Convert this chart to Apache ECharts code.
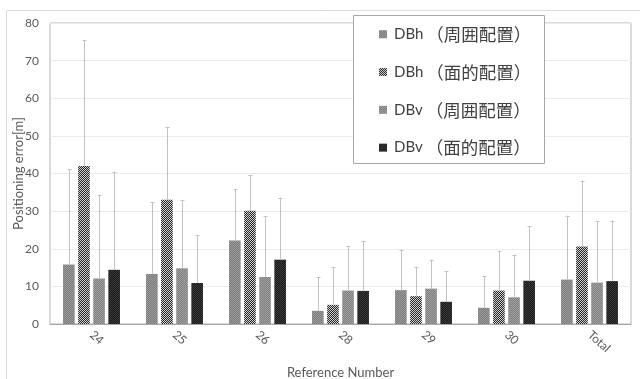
<!DOCTYPE html>
<html>
<head>
<meta charset="utf-8">
<script src="https://cdn.jsdelivr.net/npm/echarts@6/dist/echarts.min.js"></script>
<style>
html,body{margin:0;padding:0;background:#fff;}
#chart{width:640px;height:379px;}
</style>
</head>
<body>
<div id="chart"></div>
<script>
const categories = ['24', '25', '26', '28', '29', '30', 'Total'];
const seriesNames = ['DBh（周囲配置）', 'DBh（面的配置）', 'DBv（周囲配置）', 'DBv（面的配置）'];
const dbhPeri = [15.8, 13.3, 22.2, 3.5, 9.0, 4.3, 11.8];
const dbhArea = [42.0, 33.0, 30.1, 5.1, 7.4, 8.9, 20.6];
const dbvPeri = [12.1, 14.8, 12.5, 8.9, 9.4, 7.1, 11.0];
const dbvArea = [14.4, 10.9, 17.1, 8.8, 5.9, 11.5, 11.4];
const dbhPeriUpper = [41.2, 32.4, 35.9, 12.4, 19.7, 12.7, 28.8];
const dbhAreaUpper = [75.4, 52.4, 39.6, 15.2, 15.2, 19.5, 38.1];
const dbvPeriUpper = [34.4, 33.0, 28.6, 20.7, 17.1, 18.4, 27.3];
const dbvAreaUpper = [40.5, 23.7, 33.6, 22.1, 14.0, 26.0, 27.5];
const yTicks = [0, 10, 20, 30, 40, 50, 60, 70, 80];

const means = [dbhPeri, dbhArea, dbvPeri, dbvArea];
const uppers = [dbhPeriUpper, dbhAreaUpper, dbvPeriUpper, dbvAreaUpper];

function pattern(c1, c2) {
  const cv = document.createElement('canvas');
  cv.width = 2; cv.height = 2;
  const ctx = cv.getContext('2d');
  ctx.fillStyle = c1; ctx.fillRect(0, 0, 2, 2);
  ctx.fillStyle = c2; ctx.fillRect(0, 0, 1, 1); ctx.fillRect(1, 1, 1, 1);
  return { image: cv, repeat: 'repeat' };
}
const fills = [
  pattern('#7c7c7c', '#9a9a9a'),
  pattern('#262626', '#d0d0d0'),
  pattern('#808080', '#a0a0a0'),
  pattern('#1a1a1a', '#3a3a3a')
];

const BAR_W = 0.14, GAP = 0.3;
const font = "Lato, 'Noto Sans CJK JP', sans-serif";

const series = [];
means.forEach((m, k) => {
  series.push({
    name: seriesNames[k],
    type: 'bar',
    data: m,
    barWidth: (BAR_W * 100) + '%',
    barGap: (GAP * 100) + '%',
    itemStyle: { color: fills[k] },
    z: 2
  });
});
uppers.forEach((u, k) => {
  series.push({
    name: 'err' + k,
    type: 'custom',
    data: categories.map((c, i) => [i, means[k][i], u[i]]),
    encode: { x: 0, y: [1, 2] },
    silent: true,
    z: 3,
    renderItem: function (params, api) {
      const i = api.value(0);
      const band = api.size([1, 0])[0];
      const bw = band * BAR_W;
      const off = (k - 1.5) * bw * (1 + GAP);
      const p0 = api.coord([i, api.value(1)]);
      const p1 = api.coord([i, api.value(2)]);
      const x = Math.round(p0[0] + off) + 0.5;
      const st = { stroke: '#c2c2c2', lineWidth: 1 };
      return {
        type: 'group',
        children: [
          { type: 'line', shape: { x1: x, y1: p0[1], x2: x, y2: p1[1] }, style: st },
          { type: 'line', shape: { x1: x - 2, y1: Math.round(p1[1]) + 0.5, x2: x + 2, y2: Math.round(p1[1]) + 0.5 }, style: st }
        ]
      };
    }
  });
});

const chart = echarts.init(document.getElementById('chart'));
chart.setOption({
  animation: false,
  backgroundColor: '#fff',
  textStyle: { fontFamily: font },
  grid: {
    left: 50, top: 23, right: 9, bottom: 55,
    outerBoundsMode: 'none',
    containLabel: false,
    show: true, borderColor: '#b4b4b4', borderWidth: 1
  },
  graphic: [
    { type: 'line', shape: { x1: 6.5, y1: 10.5, x2: 640, y2: 10.5 }, style: { stroke: '#dcdcdc', lineWidth: 1 }, z: 1 },
    { type: 'line', shape: { x1: 6.5, y1: 10.5, x2: 6.5, y2: 379 }, style: { stroke: '#dcdcdc', lineWidth: 1 }, z: 1 },
    { type: 'rect', shape: { x: 353.5, y: 15.5, width: 191, height: 148 }, style: { fill: '#fff', stroke: '#a6a6a6', lineWidth: 1 }, z: 3 }
  ],
  legend: {
    data: seriesNames,
    orient: 'vertical',
    left: 379,
    top: 25.5,
    padding: 0,
    itemWidth: 8,
    itemHeight: 8,
    itemGap: 20.3,
    icon: 'rect',
    z: 5,
    formatter: function (name) {
      const p = name.indexOf('（');
      return '{a|' + name.slice(0, p) + '}{b|' + name.slice(p) + '}';
    },
    textStyle: {
      color: '#404040',
      padding: [0, 0, 0, 2],
      rich: {
        a: { fontFamily: 'Lato', fontSize: 15, color: '#404040', lineHeight: 17 },
        b: { fontFamily: "'Noto Sans CJK JP'", fontSize: 17.5, color: '#404040', lineHeight: 17, padding: [0, 0, 0, 3] }
      }
    }
  },
  xAxis: {
    type: 'category',
    data: categories,
    name: 'Reference Number',
    nameLocation: 'middle',
    nameGap: 42,
    nameMoveOverlap: false,
    nameTextStyle: { fontFamily: font, fontSize: 13, color: '#595959' },
    axisLine: { lineStyle: { color: '#a6a6a6' } },
    axisTick: { show: false },
    axisLabel: { rotate: -42, margin: 9, fontFamily: font, fontSize: 12, color: '#595959' }
  },
  yAxis: {
    type: 'value',
    min: yTicks[0],
    max: yTicks[yTicks.length - 1],
    interval: yTicks[1] - yTicks[0],
    name: 'Positioning error[m]',
    nameLocation: 'middle',
    nameGap: 25,
    nameMoveOverlap: false,
    nameTextStyle: { fontFamily: font, fontSize: 13, color: '#595959' },
    axisLine: { show: false },
    axisTick: { show: false },
    axisLabel: { margin: 11, fontFamily: font, fontSize: 12, color: '#595959' },
    splitLine: { lineStyle: { color: '#ececec' } }
  },
  series: series
});
</script>
</body>
</html>
